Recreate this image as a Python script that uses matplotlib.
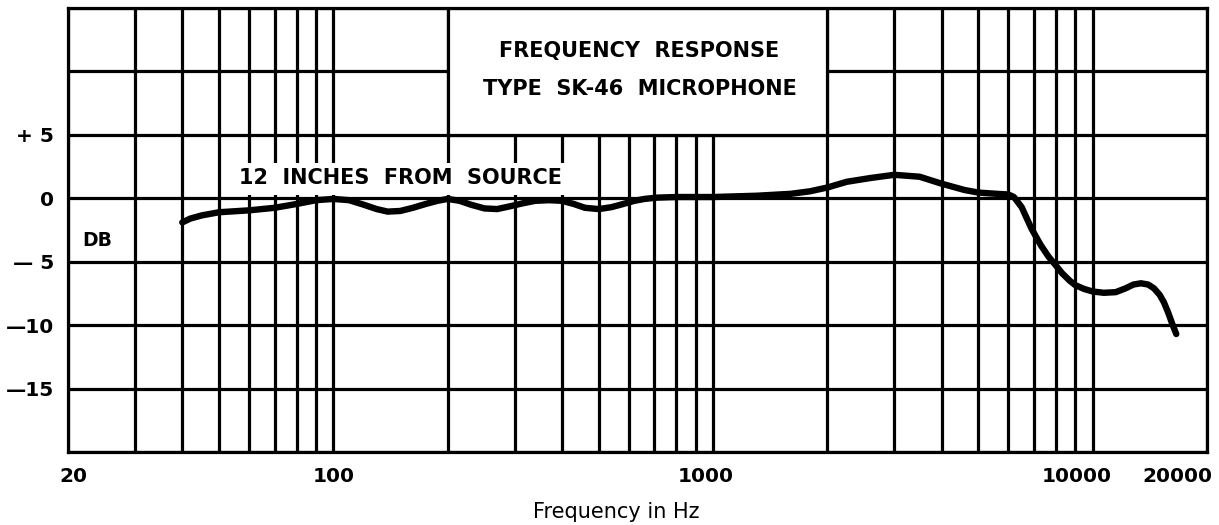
import matplotlib
matplotlib.use("Agg")
import matplotlib.pyplot as plt
from matplotlib.patches import Rectangle
from matplotlib.transforms import ScaledTranslation

# ---- data ----
freq_hz = [40, 42, 45, 50, 60, 70, 80, 90, 100, 110, 120, 130, 139, 150, 162,
           175, 188, 200, 215, 230, 250, 270, 290, 315, 340, 370, 400, 430,
           460, 500, 540, 580, 620, 660, 710, 800, 1000, 1300, 1600, 1800,
           2000, 2250, 2600, 3000, 3500, 4000, 4600, 5000, 5600, 6000, 6200,
           6500, 6900, 7300, 7650, 8000, 8300, 8700, 9000, 9500, 10000, 10700,
           11500, 12200, 12800, 13400, 14000, 14500, 15000, 15400, 15800,
           16200, 16600]
response_db = [-1.9, -1.6, -1.35, -1.1, -0.95, -0.75, -0.45, -0.15, -0.05,
               -0.15, -0.5, -0.85, -1.05, -1.0, -0.75, -0.45, -0.2, -0.05,
               -0.2, -0.5, -0.8, -0.85, -0.65, -0.4, -0.2, -0.15, -0.2, -0.45,
               -0.75, -0.85, -0.7, -0.45, -0.2, -0.05, 0.05, 0.1, 0.1, 0.2,
               0.35, 0.55, 0.85, 1.3, 1.6, 1.85, 1.7, 1.15, 0.65, 0.45, 0.35,
               0.3, 0.1, -0.7, -2.4, -3.7, -4.6, -5.3, -5.9, -6.5, -6.85, -7.15,
               -7.35, -7.45, -7.4, -7.1, -6.8, -6.7, -6.8, -7.1, -7.6, -8.2,
               -9.0, -9.9, -10.7]

x_tick_vals = [20, 100, 1000, 10000, 20000]
x_tick_labels = ["20", "100", "1000", "10000", "20000"]
y_tick_vals = [5, 0, -5, -10, -15]
y_tick_labels = ["+ 5", "0", "\u2014 5", "\u201410", "\u201415"]

grid_x = ([20, 30, 40, 50, 60, 70, 80, 90, 100,
           200, 300, 400, 500, 600, 700, 800, 900, 1000,
           2000, 3000, 4000, 5000, 6000, 7000, 8000, 9000, 10000, 20000])
grid_y = [-20, -15, -10, -5, 0, 5, 10, 15]

title_lines = ["FREQUENCY  RESPONSE", "TYPE  SK-46  MICROPHONE"]
note_text = "12  INCHES  FROM  SOURCE"
unit_text = "DB"
xlabel_text = "Frequency in Hz"

# ---- figure ----
W, H = 1219, 525
fig = plt.figure(figsize=(W / 100, H / 100), dpi=100)
fig.patch.set_facecolor("white")
ax = fig.add_axes([68 / W, (H - 452) / H, (1207 - 68) / W, (452 - 8) / H])
ax.set_xscale("log")
ax.set_xlim(20, 20000)
ax.set_ylim(-20, 15)

LW = 2.3
for gx in grid_x:
    ax.axvline(gx, color="black", lw=LW, zorder=1)
for gy in grid_y:
    ax.axhline(gy, color="black", lw=LW, zorder=1)

# title box (white, covers grid)
ax.add_patch(Rectangle((200, 5), 2000 - 200, 15 - 5, facecolor="white",
                       edgecolor="black", lw=LW, zorder=2))
# note box
ax.add_patch(Rectangle((54, 0.22), 430 - 54, 2.8 - 0.22, facecolor="white",
                       edgecolor="none", zorder=2))

FONT = ["DejaVu Sans"]
ax.text(640, 11.6, title_lines[0], ha="center", va="center",
        fontsize=15, fontweight="bold", family=FONT, zorder=3)
ax.text(640, 8.65, title_lines[1], ha="center", va="center",
        fontsize=15, fontweight="bold", family=FONT, zorder=3)
ax.text(56.4, 1.6, note_text, ha="left", va="center",
        fontsize=15, fontweight="bold", family=FONT, zorder=3)
ax.text(21.8, -3.3, unit_text, ha="left", va="center",
        fontsize=13.5, fontweight="bold", family=FONT, zorder=3)

ax.plot(freq_hz, response_db, color="black", lw=4.6, zorder=4,
        solid_capstyle="round", solid_joinstyle="round")

for s in ax.spines.values():
    s.set_linewidth(LW)
    s.set_color("black")
    s.set_zorder(5)

ax.set_xticks(x_tick_vals)
ax.set_xticklabels(x_tick_labels)
ax.xaxis.set_minor_locator(matplotlib.ticker.NullLocator())
ax.set_yticks(y_tick_vals)
ax.set_yticklabels(y_tick_labels)
ax.tick_params(axis="both", length=0, labelsize=14.5)
ax.tick_params(axis="x", pad=11)
ax.tick_params(axis="y", pad=10)
for lab in ax.get_xticklabels() + ax.get_yticklabels():
    lab.set_fontweight("bold")
    lab.set_family(FONT)

xl = ax.get_xticklabels()
xl[0].set_transform(xl[0].get_transform() + ScaledTranslation(5 / 100, 0, fig.dpi_scale_trans))
xl[2].set_transform(xl[2].get_transform() + ScaledTranslation(-7 / 100, 0, fig.dpi_scale_trans))
xl[3].set_transform(xl[3].get_transform() + ScaledTranslation(-16 / 100, 0, fig.dpi_scale_trans))
xl[4].set_horizontalalignment("right")
xl[4].set_transform(xl[4].get_transform() + ScaledTranslation(5 / 100, 0, fig.dpi_scale_trans))

fig.text(616 / W, 1 - 512 / H, xlabel_text, ha="center", va="center",
         fontsize=15, family=FONT)

fig.savefig("out.png", dpi=100, facecolor="white")
